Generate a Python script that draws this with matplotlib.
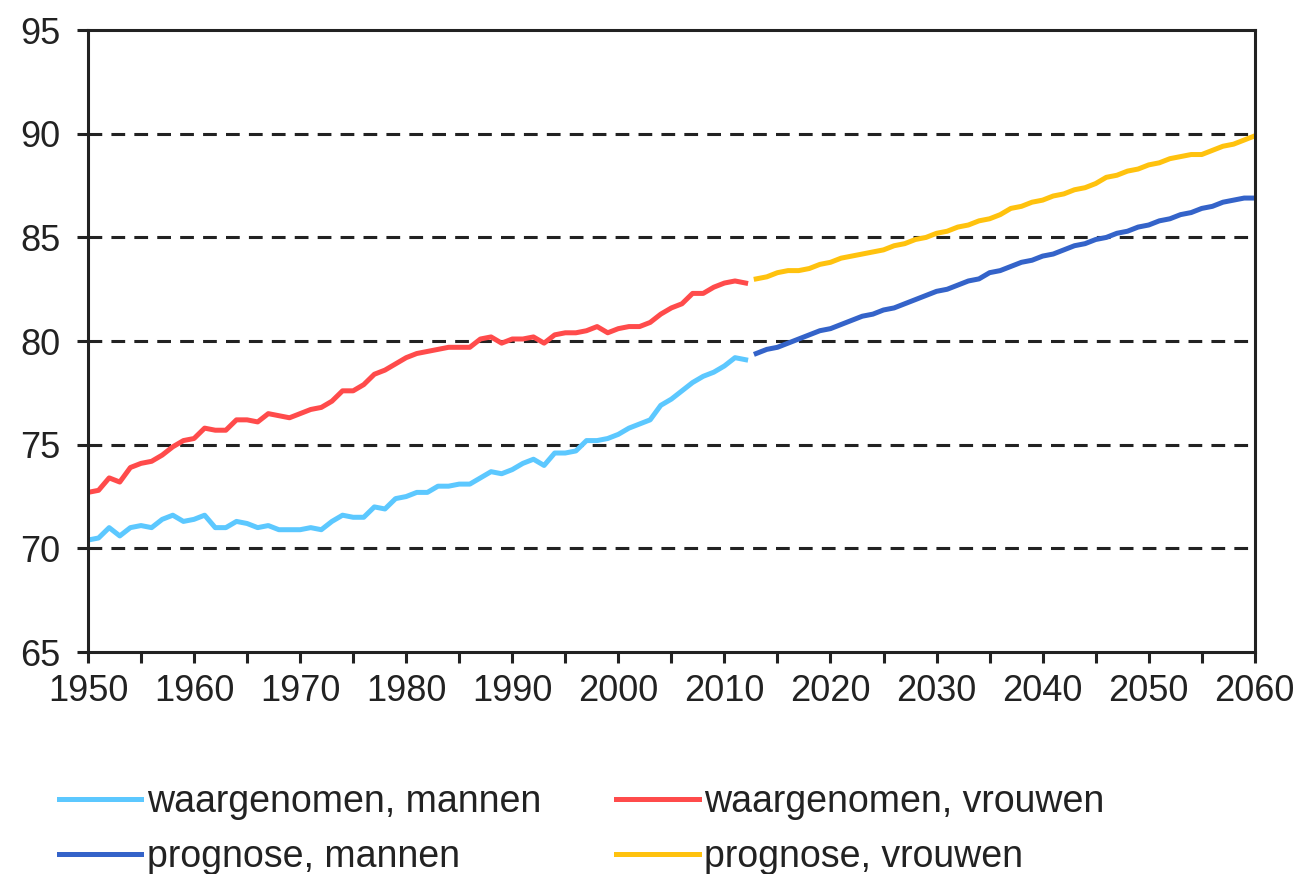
import matplotlib.pyplot as plt
import numpy as np

plt.rcParams['font.family'] = ['Liberation Sans', 'DejaVu Sans']

# observed life expectancy 1950-2012
obs_years = np.arange(1950, 2013)
obs_men = [70.4, 70.5, 71.0, 70.6, 71.0, 71.1, 71.0, 71.4, 71.6, 71.3,
           71.4, 71.6, 71.0, 71.0, 71.3, 71.2, 71.0, 71.1, 70.9, 70.9,
           70.9, 71.0, 70.9, 71.3, 71.6, 71.5, 71.5, 72.0, 71.9, 72.4,
           72.5, 72.7, 72.7, 73.0, 73.0, 73.1, 73.1, 73.4, 73.7, 73.6,
           73.8, 74.1, 74.3, 74.0, 74.6, 74.6, 74.7, 75.2, 75.2, 75.3,
           75.5, 75.8, 76.0, 76.2, 76.9, 77.2, 77.6, 78.0, 78.3, 78.5,
           78.8, 79.2, 79.1]
obs_women = [72.7, 72.8, 73.4, 73.2, 73.9, 74.1, 74.2, 74.5, 74.9, 75.2,
             75.3, 75.8, 75.7, 75.7, 76.2, 76.2, 76.1, 76.5, 76.4, 76.3,
             76.5, 76.7, 76.8, 77.1, 77.6, 77.6, 77.9, 78.4, 78.6, 78.9,
             79.2, 79.4, 79.5, 79.6, 79.7, 79.7, 79.7, 80.1, 80.2, 79.9,
             80.1, 80.1, 80.2, 79.9, 80.3, 80.4, 80.4, 80.5, 80.7, 80.4,
             80.6, 80.7, 80.7, 80.9, 81.3, 81.6, 81.8, 82.3, 82.3, 82.6,
             82.8, 82.9, 82.8]

# forecast 2013-2060
prog_years = np.arange(2013, 2061)
prog_men = [79.4, 79.6, 79.7, 79.9, 80.1, 80.3, 80.5, 80.6, 80.8, 81.0,
            81.2, 81.3, 81.5, 81.6, 81.8, 82.0, 82.2, 82.4, 82.5, 82.7,
            82.9, 83.0, 83.3, 83.4, 83.6, 83.8, 83.9, 84.1, 84.2, 84.4,
            84.6, 84.7, 84.9, 85.0, 85.2, 85.3, 85.5, 85.6, 85.8, 85.9,
            86.1, 86.2, 86.4, 86.5, 86.7, 86.8, 86.9, 86.9]
prog_women = [83.0, 83.1, 83.3, 83.4, 83.4, 83.5, 83.7, 83.8, 84.0, 84.1,
              84.2, 84.3, 84.4, 84.6, 84.7, 84.9, 85.0, 85.2, 85.3, 85.5,
              85.6, 85.8, 85.9, 86.1, 86.4, 86.5, 86.7, 86.8, 87.0, 87.1,
              87.3, 87.4, 87.6, 87.9, 88.0, 88.2, 88.3, 88.5, 88.6, 88.8,
              88.9, 89.0, 89.0, 89.2, 89.4, 89.5, 89.7, 89.9]

fig = plt.figure(figsize=(13.03, 8.74), dpi=100)
ax = fig.add_axes([0.0675, 0.254, 0.8955, 0.7115])

lw = 3.6
l1, = ax.plot(obs_years, obs_men, color='#5cc8ff', lw=lw, label='waargenomen, mannen')
l2, = ax.plot(obs_years, obs_women, color='#ff4b4b', lw=lw, label='waargenomen, vrouwen')
l3, = ax.plot(prog_years, prog_men, color='#3463c9', lw=lw, label='prognose, mannen')
l4, = ax.plot(prog_years, prog_women, color='#ffc20e', lw=lw, label='prognose, vrouwen')

ax.set_xlim(1950, 2060)
ax.set_ylim(65, 95)
ax.set_xticks(np.arange(1950, 2061, 10))
ax.set_xticks(np.arange(1955, 2060, 10), minor=True)
ax.set_yticks(np.arange(65, 96, 5))

for y in range(70, 95, 5):
    ax.axhline(y, color='#222222', lw=2.2, ls=(0, (4.5, 3)), zorder=0)

for s in ax.spines.values():
    s.set_linewidth(2.2)
    s.set_color('#222222')

ax.tick_params(axis='both', which='both', direction='out', width=2.2,
               color='#222222', labelsize=26, labelcolor='#222222')
ax.tick_params(axis='x', which='both', length=8, pad=8)
ax.tick_params(axis='y', length=8, pad=12)

fig.legend(handles=[l1, l3, l2, l4], loc='upper left', bbox_to_anchor=(0.045, 0.103),
           ncol=2, frameon=False, fontsize=27, handlelength=2.2,
           handletextpad=0.15, columnspacing=2.0, labelspacing=0.52,
           borderpad=0, borderaxespad=0, labelcolor='#222222')

fig.savefig('out.png', dpi=100)
